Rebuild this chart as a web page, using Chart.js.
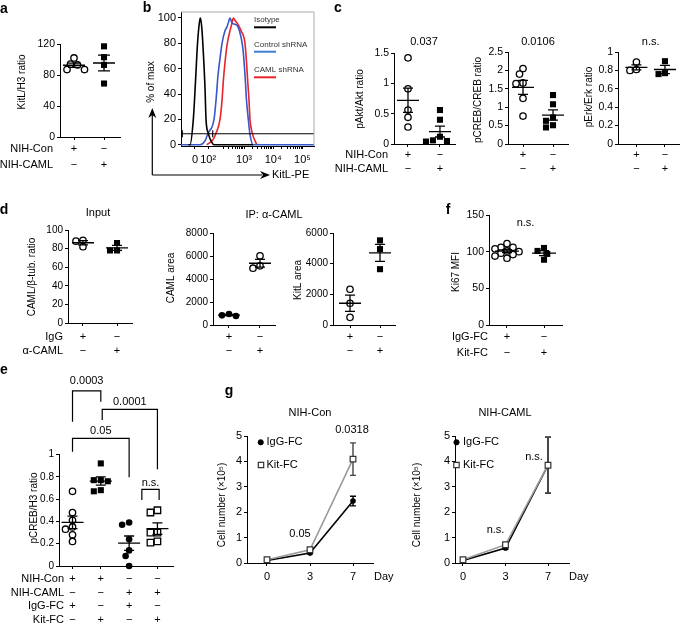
<!DOCTYPE html>
<html><head><meta charset="utf-8">
<script src="https://cdn.jsdelivr.net/npm/chart.js@4/dist/chart.umd.min.js"></script>
<style>
html,body{margin:0;padding:0;background:#fff;width:685px;height:625px;overflow:hidden}
#wrap{position:relative;width:685px;height:625px}
canvas{position:absolute;left:0;top:0}
</style></head><body><div id="wrap"></div>
<script>
// ================= DATA =================
// panel a
const aRowNames = ['NIH-Con', 'NIH-CAML'];
const aSigns = [['+', '−'], ['−', '+']];
const aCon = [102, 94, 93, 87, 87];
const aCaml = [117, 103, 93, 69];
const aMean = [92.6, 95.5];
const aSem = [2.8, 10.1];
const aYTicks = [0, 40, 80, 120];

// panel b (x in display decades of KitL-PE, y in % of max)
const bTickVals = [1.32, 1.77, 3, 4, 5];
const bTickLabels = ['0', '10²', '10³', '10⁴', '10⁵'];
const bYTicks = [0, 20, 40, 60, 80, 100];
const bIsoX = [1.10, 1.151, 1.264, 1.339, 1.408, 1.476, 1.510, 1.562, 1.613, 1.664, 1.699, 1.777, 1.870, 1.973, 3.308];
const bIsoY = [0, 0, 20, 50, 80, 97, 100, 90, 70, 45, 20, 9, 3, 0, 0];
const bCtrlX = [0.842, 1.493, 1.664, 1.767, 1.973, 2.041, 2.110, 2.178, 2.247, 2.349, 2.418, 2.486, 2.521, 2.589, 2.692, 2.795, 2.897, 2.966, 3.034, 3.086, 3.147, 3.205, 3.318, 5.397];
const bCtrlY = [0, 0, 3, 9, 20, 35, 55, 68, 80, 90, 93, 98, 100, 96, 95, 93, 85, 75, 55, 35, 20, 8, 0, 0];
const bCamlX = [1.723, 1.938, 2.041, 2.178, 2.247, 2.291, 2.349, 2.428, 2.521, 2.589, 2.634, 2.692, 2.795, 2.897, 3.034, 3.086, 3.127, 3.171, 3.205, 3.274, 3.435];
const bCamlY = [0, 4, 9, 20, 35, 50, 65, 80, 90, 96, 100, 98, 95, 90, 80, 65, 50, 35, 20, 10, 0];
const bLegend = ['Isotype', 'Control shRNA', 'CAML shRNA'];
const bGate = 8.7;

// panel c
const cRowNames = ['NIH-Con', 'NIH-CAML'];
const cSigns = [['+', '−'], ['−', '+']];
const c1Con = [1.42, 0.91, 0.56, 0.44, 0.28];
const c1Caml = [0.56, 0.40, 0.12, 0.06, 0.04, 0.05];
const c1Mean = [0.72, 0.205], c1Sem = [0.2, 0.09], c1P = '0.037';
const c1YTicks = [0, 0.5, 1, 1.5];
const c2Con = [2.05, 1.90, 1.66, 1.64, 1.24, 0.76];
const c2Caml = [1.33, 1.08, 0.72, 0.63, 0.51, 0.45];
const c2Mean = [1.54, 0.787], c2Sem = [0.19, 0.14], c2P = '0.0106';
const c2YTicks = [0, 0.5, 1, 1.5, 2, 2.5];
const c3Con = [0.89, 0.81, 0.80];
const c3Caml = [0.90, 0.77, 0.76];
const c3Mean = [0.833, 0.81], c3Sem = [0.028, 0.045], c3P = 'n.s.';
const c3YTicks = [0, 0.2, 0.4, 0.6, 0.8, 1];

// panel d
const dRowNames = ['IgG', 'α-CAML'];
const dSigns = [['+', '−'], ['−', '+']];
const d1IgG = [89, 88, 82], d1Caml = [86, 78, 78];
const d1Mean = [86.3, 80.7], d1Sem = [2.2, 2.7];
const d1YTicks = [0, 20, 40, 60, 80, 100];
const d2IgG = [960, 840, 780], d2Caml = [6020, 5150, 4940];
const d2Mean = [860, 5370], d2Sem = [53, 330];
const d2YTicks = [0, 2000, 4000, 6000, 8000];
const d3IgG = [2330, 1420, 500], d3Caml = [5520, 4950, 3640];
const d3Mean = [1417, 4703], d3Sem = [528, 557];
const d3YTicks = [0, 2000, 4000, 6000];

// panel f
const fRowNames = ['IgG-FC', 'Kit-FC'];
const fSigns = [['+', '−'], ['−', '+']];
const fIgG = [111, 106, 106, 104, 101, 100, 98, 96, 94, 91];
const fKit = [105, 101, 97, 89];
const fMean = [100.7, 98], fSem = [1.95, 3.4], fP = 'n.s.';
const fYTicks = [0, 50, 100, 150];

// panel e
const eRowNames = ['NIH-Con', 'NIH-CAML', 'IgG-FC', 'Kit-FC'];
const eSigns = [['+', '+', '−', '−'], ['−', '−', '+', '+'], ['+', '−', '+', '−'], ['−', '+', '−', '+']];
const eG1 = [0.67, 0.48, 0.41, 0.35, 0.33, 0.28, 0.22];
const eG2 = [0.92, 0.77, 0.77, 0.76, 0.68, 0.67];
const eG3 = [0.39, 0.37, 0.24, 0.14, 0.09, 0.0];
const eG4 = [0.50, 0.48, 0.30, 0.30, 0.22, 0.21];
const eMean = [0.391, 0.762, 0.205, 0.335], eSem = [0.056, 0.037, 0.064, 0.051];
const eYTicks = [0, 0.2, 0.4, 0.6, 0.8, 1];
const eBrackets = [
  {p: '0.0003', x1: 0, x2: 1, top: 1.57, l: 1.294, r: 1.474, ly: 1.662},
  {p: '0.0001', x1: 1.05, x2: 3, top: 1.405, l: 1.309, r: 0.867, ly: 1.474},
  {p: '0.05', x1: 0, x2: 2, top: 1.145, l: 1.025, r: 0.796, ly: 1.213},
  {p: 'n.s.', x1: 2.45, x2: 3.06, top: 0.688, l: 0.592, r: 0.592, ly: 0.747}
];

// panel g
const gDays = ['0', '3', '7'];
const gYTicks = [0, 1, 2, 3, 4, 5];
const gConIgG = [0.10, 0.39, 2.44], gConIgGErr = [0.02, 0.03, 0.19];
const gConKit = [0.13, 0.52, 4.09], gConKitErr = [0.03, 0.05, 0.64];
const gCamlIgG = [0.10, 0.59, 3.85], gCamlIgGErr = [0.02, 0.05, 1.1];
const gCamlKit = [0.13, 0.72, 3.85], gCamlKitErr = [0.03, 0.08, 1.1];
const gConP = ['0.05', '0.0318'];
const gCamlP = ['n.s.', 'n.s.'];

// ================= RENDERING =================
const W = 685, H = 625;
const FONT = '"Liberation Sans", Arial, Helvetica, sans-serif';
Chart.defaults.font.family = FONT;
Chart.defaults.color = '#000';
const wrap = document.getElementById('wrap');

const decoPlugin = {
  id: 'deco',
  beforeDatasetsDraw(chart) {
    const o = chart.canvas._deco; if (!o || !o.errbars) return;
    const ctx = chart.ctx, xs = chart.scales.x, ys = chart.scales.y;
    ctx.save();
    o.errbars.forEach(b => {
      const x = xs.getPixelForValue(b.xv), y1 = ys.getPixelForValue(b.yv + b.e), y2 = ys.getPixelForValue(b.yv - b.e);
      ctx.strokeStyle = b.color || '#000'; ctx.lineWidth = 1.4;
      ctx.beginPath();
      ctx.moveTo(x, y1); ctx.lineTo(x, y2);
      ctx.moveTo(x - 3, y1); ctx.lineTo(x + 3, y1);
      ctx.moveTo(x - 3, y2); ctx.lineTo(x + 3, y2);
      ctx.stroke();
    });
    ctx.restore();
  },
  afterDraw(chart) {
    const o = chart.canvas._deco || {};
    const ctx = chart.ctx, xs = chart.scales.x, ys = chart.scales.y;
    const X = v => xs.getPixelForValue(v), Y = v => ys.getPixelForValue(v);
    ctx.save();
    (o.ms || []).forEach(m => {
      const cx = X(m.cat), my = Y(m.mean), t = Y(m.mean + m.sem), b = Y(m.mean - m.sem);
      ctx.strokeStyle = '#000'; ctx.lineWidth = 1.3;
      ctx.beginPath();
      ctx.moveTo(cx - m.hw, my); ctx.lineTo(cx + m.hw, my);
      ctx.moveTo(cx, t); ctx.lineTo(cx, b);
      ctx.moveTo(cx - m.cw, t); ctx.lineTo(cx + m.cw, t);
      ctx.moveTo(cx - m.cw, b); ctx.lineTo(cx + m.cw, b);
      ctx.stroke();
    });
    (o.dlines || []).forEach(l => {
      ctx.strokeStyle = l.color || '#000'; ctx.lineWidth = l.w || 1.2;
      ctx.beginPath();
      l.pts.forEach((p, i) => { const x = X(p[0]), y = Y(p[1]); i ? ctx.lineTo(x, y) : ctx.moveTo(x, y); });
      ctx.stroke();
    });
    (o.plines || []).forEach(l => {
      ctx.strokeStyle = l.color || '#000'; ctx.lineWidth = l.w || 1;
      ctx.beginPath();
      l.pts.forEach((p, i) => { i ? ctx.lineTo(p[0], p[1]) : ctx.moveTo(p[0], p[1]); });
      ctx.stroke();
    });
    (o.arrows || []).forEach(a => {
      ctx.fillStyle = '#000';
      ctx.beginPath();
      const ang = Math.atan2(a.y2 - a.y1, a.x2 - a.x1);
      const L = 10, Wd = 4;
      ctx.moveTo(a.x2, a.y2);
      ctx.lineTo(a.x2 - L * Math.cos(ang) + Wd * Math.sin(ang), a.y2 - L * Math.sin(ang) - Wd * Math.cos(ang));
      ctx.lineTo(a.x2 - L * Math.cos(ang) * 0.7, a.y2 - L * Math.sin(ang) * 0.7);
      ctx.lineTo(a.x2 - L * Math.cos(ang) - Wd * Math.sin(ang), a.y2 - L * Math.sin(ang) + Wd * Math.cos(ang));
      ctx.closePath(); ctx.fill();
    });
    (o.marks || []).forEach(m => {
      ctx.fillStyle = m.fill; ctx.strokeStyle = m.stroke || '#000'; ctx.lineWidth = m.bw || 1;
      Chart.helpers.drawPoint(ctx, {pointStyle: m.style, radius: m.r, borderWidth: m.bw || 1, rotation: 0}, m.x, m.y);
    });
    ctx.fillStyle = '#000';
    const texts = (o.texts || []).slice();
    if (o.xlab) o.xlab.vals.forEach((v, i) => texts.push({t: o.xlab.labels[i], xv: v, y: o.xlab.y, size: o.xlab.size || 11}));
    texts.forEach(t => {
      const x = t.xv !== undefined ? X(t.xv) : t.x;
      const y = t.yv !== undefined ? Y(t.yv) : t.y;
      ctx.save();
      ctx.translate(x, y);
      if (t.rot) ctx.rotate(t.rot * Math.PI / 180);
      ctx.font = (t.bold ? 'bold ' : '') + (t.size || 11) + 'px ' + FONT;
      ctx.fillStyle = t.color || '#000';
      ctx.textAlign = t.align || 'center';
      ctx.textBaseline = 'middle';
      ctx.fillText(t.t, 0, 0);
      ctx.restore();
    });
    if (o.rows) {
      const r = o.rows;
      ctx.font = '11px ' + FONT; ctx.fillStyle = '#000'; ctx.textBaseline = 'middle';
      r.ys.forEach((y, i) => {
        if (r.names) { ctx.textAlign = 'right'; ctx.fillText(r.names[i], r.nameX, y); }
        ctx.textAlign = 'center';
        r.signs[i].forEach((s, j) => ctx.fillText(s, X(j), y));
      });
    }
    ctx.restore();
  }
};

function swarm(cat, vals, g, d) {
  const kx = g.w / (g.xmax - g.xmin), ky = g.h / (g.ymax - g.ymin);
  const order = vals.map((v, i) => i).sort((p, q) => vals[q] - vals[p]);
  const placed = [], out = new Array(vals.length), s = d * 0.5;
  for (const i of order) {
    const py = vals[i] * ky;
    let off = 0;
    for (let k = 0; k < 40; k++) {
      const o = k === 0 ? 0 : (k % 2 ? -Math.ceil(k / 2) * s : Math.ceil(k / 2) * s);
      if (placed.every(p => (p.x - o) ** 2 + (p.y - py) ** 2 >= d * d * 0.85)) { off = o; break; }
    }
    placed.push({x: off, y: py});
    out[i] = {x: cat + off / kx, y: vals[i]};
  }
  return out;
}

function zeroPad(s) { s.paddingLeft = 0; s.paddingRight = 0; s.paddingTop = 0; s.paddingBottom = 0; }

function makeChart(g, datasets, deco) {
  const c = document.createElement('canvas');
  c.width = W; c.height = H; c.style.width = W + 'px'; c.style.height = H + 'px';
  wrap.appendChild(c);
  c._deco = deco;
  const yw = 40, xh = 12;
  const tickFont = {size: g.tickSize || 10, family: FONT};
  return new Chart(c, {
    type: 'scatter',
    data: {datasets},
    options: {
      responsive: false, animation: false, events: [], devicePixelRatio: 1,
      layout: {padding: {left: g.l - yw, top: g.t, right: W - (g.l + g.w), bottom: H - (g.t + g.h) - xh}},
      plugins: {legend: {display: false}, tooltip: {enabled: false}},
      scales: {
        x: {
          type: 'linear', min: g.xmin, max: g.xmax,
          afterFit: s => { s.height = xh; zeroPad(s); },
          afterBuildTicks: s => { s.ticks = g.xticks.map(v => ({value: v})); },
          ticks: {display: false, autoSkip: false},
          grid: {drawOnChartArea: false, drawTicks: true, tickLength: 3, tickColor: '#000', tickWidth: 1},
          border: {display: true, color: '#000', width: 1}
        },
        y: {
          type: 'linear', min: g.ymin, max: g.ymax,
          afterFit: s => { s.width = yw; zeroPad(s); },
          afterBuildTicks: s => { s.ticks = g.yticks.map(v => ({value: v})); },
          ticks: {autoSkip: false, padding: 2, font: tickFont, color: '#000', callback: v => String(+v.toFixed(3))},
          grid: {drawOnChartArea: false, drawTicks: true, tickLength: 3, tickColor: '#000', tickWidth: 1},
          border: {display: true, color: '#000', width: 1}
        }
      }
    },
    plugins: [decoPlugin]
  });
}

const openCircle = (data) => ({data, pointStyle: 'circle', pointRadius: 3.2, borderWidth: 1.3, borderColor: '#000', backgroundColor: '#fff', clip: false});
const fillCircle = (data) => ({data, pointStyle: 'circle', pointRadius: 3.3, borderWidth: 0, borderColor: '#000', backgroundColor: '#000', clip: false});
const fillSquare = (data) => ({data, pointStyle: 'rect', pointRadius: 4.3, borderWidth: 0, borderColor: '#000', backgroundColor: '#000', clip: false});
const openSquare = (data) => ({data, pointStyle: 'rect', pointRadius: 4.6, borderWidth: 1.3, borderColor: '#000', backgroundColor: '#fff', clip: false});
const msOf = (means, sems, hw, cw) => means.map((m, i) => ({cat: i, mean: m, sem: sems[i], hw, cw}));

// ---------- panel a ----------
const gA = {l: 60, t: 44, w: 60, h: 93, xmin: -0.467, xmax: 1.533, ymin: 0, ymax: 120, xticks: [0, 1], yticks: aYTicks, tickSize: 10.5};
makeChart(gA, [openCircle(swarm(0, aCon, gA, 7)), fillSquare(swarm(1, aCaml, gA, 7))], {
  ms: msOf(aMean, aSem, 11, 6),
  rows: {names: aRowNames, signs: aSigns, ys: [149, 165], nameX: 53},
  texts: [
    {t: 'a', x: 4, y: 9, bold: true, size: 14},
    {t: 'KitL/H3 ratio', x: 22, y: 82, rot: -90, size: 10}
  ]
});

// ---------- panel b ----------
const gB = {l: 181, t: 12, w: 133, h: 134, xmin: 0.842, xmax: 5.397, ymin: -1, ymax: 104.7, yticks: bYTicks, tickSize: 11};
const bMinor = [];
[2, 3, 4].forEach(d => { for (let k = 2; k <= 9; k++) bMinor.push(d + Math.log10(k)); });
gB.xticks = bTickVals.concat(bMinor);
const lineDs = (xs, ys, color) => ({data: xs.map((x, i) => ({x, y: ys[i]})), showLine: true, borderColor: color, borderWidth: 1.6, pointRadius: 0, cubicInterpolationMode: 'monotone', clip: false});
makeChart(gB, [
  lineDs(bIsoX, bIsoY, '#000'),
  lineDs(bCtrlX, bCtrlY, '#3656c9'),
  lineDs(bCamlX, bCamlY, '#e8242b')
], {
  xlab: {vals: bTickVals, labels: bTickLabels, y: 159.5, size: 11},
  dlines: [
    {pts: [[0.842, bGate], [5.397, bGate]], w: 1.1},
    {pts: [[0.887, bGate - 2.8], [0.887, bGate + 2.8]], w: 1.1},
    {pts: [[1.928, bGate - 2.8], [1.928, bGate + 2.8]], w: 1.1}
  ],
  plines: [
    {pts: [[181, 12], [314, 12], [314, 146]], color: '#aaa', w: 1},
    {pts: [[254, 27.3], [276, 27.3]], color: '#000', w: 2},
    {pts: [[254, 51.7], [276, 51.7]], color: '#3b7ed4', w: 2},
    {pts: [[254, 77.3], [276, 77.3]], color: '#e8242b', w: 2},
    {pts: [[152.3, 175], [152.3, 112]], w: 1.2},
    {pts: [[152.3, 175], [262, 175]], w: 1.2}
  ],
  arrows: [{x1: 152.3, y1: 175, x2: 152.3, y2: 108}, {x1: 152.3, y1: 175, x2: 270, y2: 175}],
  texts: [
    {t: 'b', x: 147, y: 8, bold: true, size: 14},
    {t: '% of max', x: 151, y: 82, rot: -90, size: 10},
    {t: 'KitL-PE', x: 272, y: 175, align: 'left', size: 11},
    {t: bLegend[0], x: 254, y: 19.3, align: 'left', size: 8, color: '#333'},
    {t: bLegend[1], x: 254, y: 44.3, align: 'left', size: 8, color: '#333'},
    {t: bLegend[2], x: 254, y: 69.3, align: 'left', size: 8, color: '#333'}
  ]
});

// ---------- panel c ----------
const gC1 = {l: 394, t: 53, w: 61, h: 91, xmin: -0.4375, xmax: 1.47, ymin: 0, ymax: 1.5, xticks: [0, 1], yticks: c1YTicks, tickSize: 10.5};
makeChart(gC1, [openCircle(swarm(0, c1Con, gC1, 7)), fillSquare(swarm(1, c1Caml, gC1, 7))], {
  ms: msOf(c1Mean, c1Sem, 11, 5),
  rows: {names: cRowNames, signs: cSigns, ys: [155, 169], nameX: 388},
  texts: [
    {t: 'c', x: 338, y: 8, bold: true, size: 14},
    {t: c1P, xv: 0.5, y: 42, size: 11},
    {t: 'pAkt/Akt ratio', x: 360, y: 99, rot: -90, size: 10}
  ]
});
const gC2 = {l: 508, t: 52, w: 60, h: 92, xmin: -0.5, xmax: 1.5, ymin: 0, ymax: 2.5, xticks: [0, 1], yticks: c2YTicks, tickSize: 10.5};
makeChart(gC2, [openCircle(swarm(0, c2Con, gC2, 7)), fillSquare(swarm(1, c2Caml, gC2, 7))], {
  ms: msOf(c2Mean, c2Sem, 11, 5),
  rows: {signs: cSigns, ys: [155, 169]},
  texts: [
    {t: c2P, xv: 0.5, y: 42, size: 11},
    {t: 'pCREB/CREB ratio', x: 478, y: 100, rot: -90, size: 10}
  ]
});
const gC3 = {l: 618, t: 52, w: 67, h: 92, xmin: -0.645, xmax: 1.516, ymin: 0, ymax: 1, xticks: [0, 1], yticks: c3YTicks, tickSize: 10.5};
makeChart(gC3, [openCircle(swarm(0, c3Con, gC3, 7)), fillSquare(swarm(1, c3Caml, gC3, 7))], {
  ms: msOf(c3Mean, c3Sem, 11, 5),
  rows: {signs: cSigns, ys: [155, 169]},
  texts: [
    {t: c3P, xv: 0.5, y: 42, size: 11},
    {t: 'pErk/Erk ratio', x: 589, y: 97, rot: -90, size: 10}
  ]
});

// ---------- panel d ----------
const gD1 = {l: 68, t: 230, w: 64, h: 93, xmin: -0.44, xmax: 1.44, ymin: 0, ymax: 100, xticks: [0, 1], yticks: d1YTicks};
makeChart(gD1, [openCircle(swarm(0, d1IgG, gD1, 7)), fillSquare(swarm(1, d1Caml, gD1, 7))], {
  ms: msOf(d1Mean, d1Sem, 11, 5),
  rows: {names: dRowNames, signs: dSigns, ys: [337, 351], nameX: 63},
  texts: [
    {t: 'd', x: 4, y: 210, bold: true, size: 14},
    {t: 'Input', x: 98, y: 213, size: 11},
    {t: 'CAML/β-tub. ratio', x: 32, y: 277, rot: -90, size: 10}
  ]
});
const gD2 = {l: 213, t: 233, w: 62, h: 92, xmin: -0.516, xmax: 1.484, ymin: 0, ymax: 8000, xticks: [0, 1], yticks: d2YTicks};
makeChart(gD2, [fillCircle(swarm(0, d2IgG, gD2, 7)), openCircle(swarm(1, d2Caml, gD2, 7))], {
  ms: msOf(d2Mean, d2Sem, 11, 5),
  rows: {signs: dSigns, ys: [337, 351]},
  texts: [
    {t: 'IP: α-CAML', x: 274, y: 215, size: 11},
    {t: 'CAML area', x: 171, y: 278, rot: -90, size: 10}
  ]
});
const gD3 = {l: 333, t: 233, w: 62, h: 92, xmin: -0.567, xmax: 1.5, ymin: 0, ymax: 6000, xticks: [0, 1], yticks: d3YTicks};
makeChart(gD3, [openCircle(swarm(0, d3IgG, gD3, 7)), fillSquare(swarm(1, d3Caml, gD3, 7))], {
  ms: msOf(d3Mean, d3Sem, 11, 5),
  rows: {signs: dSigns, ys: [337, 351]},
  texts: [
    {t: 'KitL area', x: 298, y: 280, rot: -90, size: 10}
  ]
});

// ---------- panel f ----------
const gF = {l: 489, t: 215, w: 73, h: 110, xmin: -0.486, xmax: 1.486, ymin: 0, ymax: 150, xticks: [0, 1], yticks: fYTicks, tickSize: 10.5};
makeChart(gF, [openCircle(swarm(0, fIgG, gF, 6)), fillSquare(swarm(1, fKit, gF, 6.5))], {
  ms: msOf(fMean, fSem, 12, 5),
  rows: {names: fRowNames, signs: fSigns, ys: [337, 353], nameX: 488},
  texts: [
    {t: 'f', x: 448, y: 210, bold: true, size: 14},
    {t: fP, xv: 0.5, y: 223, size: 11},
    {t: 'Ki67 MFI', x: 456, y: 272, rot: -90, size: 10}
  ]
});

// ---------- panel e ----------
const gE = {l: 59, t: 454.5, w: 114, h: 111.5, xmin: -0.477, xmax: 3.55, ymin: 0, ymax: 1, xticks: [0, 1, 2, 3], yticks: eYTicks};
const eLines = [], eTexts = [];
eBrackets.forEach(b => {
  eLines.push({pts: [[b.x1, b.l], [b.x1, b.top], [b.x2, b.top], [b.x2, b.r]], w: 1.2});
  eTexts.push({t: b.p, xv: (b.x1 + b.x2) / 2, yv: b.ly, size: 11});
});
makeChart(gE, [
  openCircle(swarm(0, eG1, gE, 7)), fillSquare(swarm(1, eG2, gE, 7)),
  fillCircle(swarm(2, eG3, gE, 7)), openSquare(swarm(3, eG4, gE, 7))
], {
  ms: msOf(eMean, eSem, 11, 5),
  dlines: eLines,
  rows: {names: eRowNames, signs: eSigns, ys: [578.5, 592.5, 606, 619.5], nameX: 64},
  texts: eTexts.concat([
    {t: 'e', x: 4, y: 370, bold: true, size: 14},
    {t: 'pCREB/H3 ratio', x: 34, y: 508, rot: -90, size: 10}
  ])
});

// ---------- panel g ----------
const gLine = (vals, color, pt) => Object.assign({
  data: vals.map((v, i) => ({x: i, y: v})), showLine: true, borderColor: color, borderWidth: 1.6, clip: false, tension: 0
}, pt === 'circle'
  ? {pointStyle: 'circle', pointRadius: 2.8, pointBackgroundColor: '#000', pointBorderColor: '#000', pointBorderWidth: 0}
  : {pointStyle: 'rect', pointRadius: 4, pointBackgroundColor: '#fff', pointBorderColor: '#333', pointBorderWidth: 1.2});
const errs = (vals, e, color) => vals.map((v, i) => ({xv: i, yv: v, e: e[i], color}));

const gG1 = {l: 247, t: 436, w: 126, h: 127, xmin: -0.465, xmax: 2.465, ymin: 0, ymax: 5, xticks: [0, 1, 2], yticks: gYTicks, tickSize: 11};
makeChart(gG1, [gLine(gConKit, '#9a9a9a', 'rect'), gLine(gConIgG, '#000', 'circle')], {
  errbars: errs(gConIgG, gConIgGErr, '#000').concat(errs(gConKit, gConKitErr, '#444')),
  xlab: {vals: [0, 1, 2], labels: gDays, y: 577, size: 11},
  marks: [
    {style: 'circle', r: 2.6, x: 260.7, y: 442.3, fill: '#000', stroke: '#000', bw: 0},
    {style: 'rect', r: 3.8, x: 261, y: 465, fill: '#fff', stroke: '#333', bw: 1.2}
  ],
  texts: [
    {t: 'g', x: 229, y: 391, bold: true, size: 14},
    {t: 'NIH-Con', x: 310, y: 413, size: 11},
    {t: 'Cell number (×10⁵)', x: 222, y: 505, rot: -90, size: 10},
    {t: 'IgG-FC', x: 266.5, y: 442.3, align: 'left', size: 11},
    {t: 'Kit-FC', x: 266.5, y: 465, align: 'left', size: 11},
    {t: gConP[1], x: 352, y: 430, size: 11},
    {t: gConP[0], x: 300, y: 534, size: 11},
    {t: 'Day', x: 374, y: 577, align: 'left', size: 11}
  ]
});
const gG2 = {l: 455, t: 436, w: 114, h: 127, xmin: -0.188, xmax: 2.494, ymin: 0, ymax: 5, xticks: [0, 1, 2], yticks: gYTicks, tickSize: 11};
makeChart(gG2, [gLine(gCamlKit, '#9a9a9a', 'rect'), gLine(gCamlIgG, '#000', 'circle')], {
  errbars: errs(gCamlIgG, gCamlIgGErr, '#000').concat(errs(gCamlKit, gCamlKitErr, '#444')),
  xlab: {vals: [0, 1, 2], labels: gDays, y: 577, size: 11},
  marks: [
    {style: 'circle', r: 2.6, x: 456.5, y: 442.3, fill: '#000', stroke: '#000', bw: 0},
    {style: 'rect', r: 3.8, x: 456.5, y: 465, fill: '#fff', stroke: '#333', bw: 1.2}
  ],
  texts: [
    {t: 'NIH-CAML', x: 505, y: 413, size: 11},
    {t: 'Cell number (×10⁵)', x: 417, y: 505, rot: -90, size: 10},
    {t: 'IgG-FC', x: 463, y: 442.3, align: 'left', size: 11},
    {t: 'Kit-FC', x: 463, y: 465, align: 'left', size: 11},
    {t: gCamlP[1], x: 534, y: 457, size: 11},
    {t: gCamlP[0], x: 495.5, y: 530, size: 11},
    {t: 'Day', x: 569, y: 577, align: 'left', size: 11}
  ]
});
</script>
</body></html>
